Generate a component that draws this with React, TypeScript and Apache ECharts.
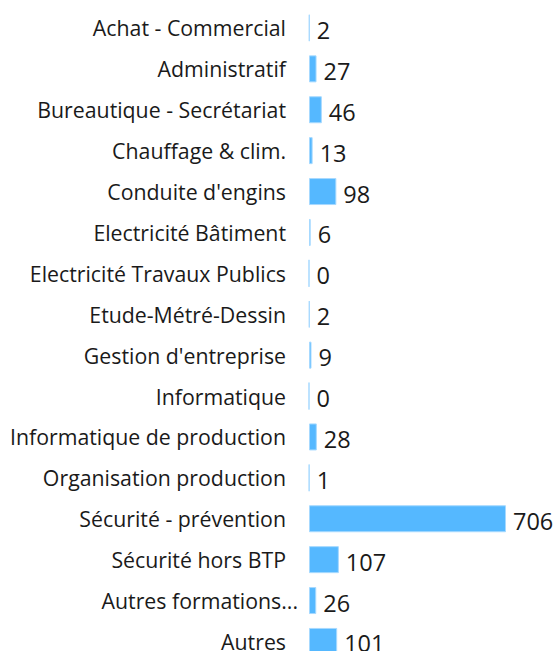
import React, { useEffect, useRef } from "react";
import * as echarts from "echarts";

const categories = [
  "Achat - Commercial",
  "Administratif",
  "Bureautique - Secrétariat",
  "Chauffage & clim.",
  "Conduite d'engins",
  "Electricité Bâtiment",
  "Electricité Travaux Publics",
  "Etude-Métré-Dessin",
  "Gestion d'entreprise",
  "Informatique",
  "Informatique de production",
  "Organisation production",
  "Sécurité - prévention",
  "Sécurité hors BTP",
  "Autres formations...",
  "Autres",
];

const values = [2, 27, 46, 13, 98, 6, 0, 2, 9, 0, 28, 1, 706, 107, 26, 101];

export default function App() {
  const ref = useRef<HTMLDivElement>(null);
  useEffect(() => {
    if (!ref.current) return;
    const chart = echarts.init(ref.current, undefined, { renderer: "svg" });
    chart.setOption({
      animation: false,
      grid: { left: 309, top: 7.5, width: 197, height: 654.4, containLabel: false },
      xAxis: {
        type: "value",
        min: 0,
        max: 706,
        show: false,
      },
      yAxis: {
        type: "category",
        data: categories.map((c) =>
          c.endsWith("...")
            ? { value: c, textStyle: { padding: [0, -12, 0, 0] } }
            : c
        ),
        inverse: true,
        axisLine: { show: false },
        axisTick: { show: false },
        axisLabel: {
          margin: 23,
          fontFamily: "Open Sans",
          fontSize: 21.3,
          color: "#1a1a1a",
        },
      },
      series: [
        {
          type: "bar",
          data: values,
          barCategoryGap: "34%",
          itemStyle: {
            color: "#55b8ff",
            borderColor: "#a6d9ff",
            borderWidth: 1,
          },
          label: {
            show: true,
            position: "right",
            distance: 7,
            offset: [0, 2],
            fontFamily: "Open Sans",
            fontSize: 23.5,
            color: "#1a1a1a",
          },
        },
      ],
    });
    return () => chart.dispose();
  }, []);
  return (
    <div
      style={{
        position: "absolute",
        left: 0,
        top: 0,
        width: 557,
        height: 651,
        overflow: "hidden",
        background: "#fff",
      }}
    >
      <div ref={ref} style={{ width: 557, height: 680 }} />
    </div>
  );
}
